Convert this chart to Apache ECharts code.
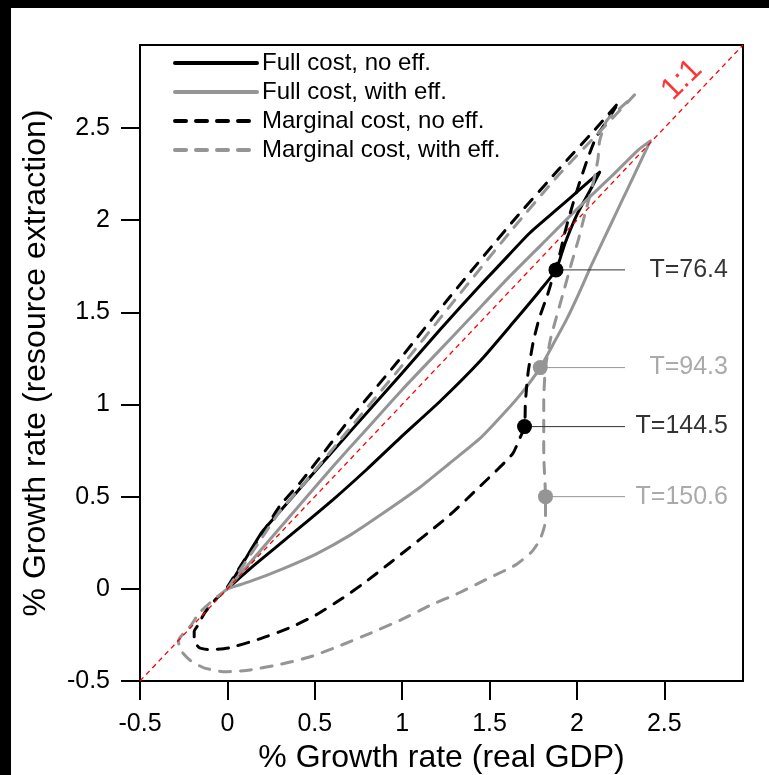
<!DOCTYPE html>
<html><head><meta charset="utf-8">
<script src="https://cdn.jsdelivr.net/npm/echarts@6/dist/echarts.min.js"></script>
<style>html,body{margin:0;padding:0;background:#fff}#c{width:769px;height:775px}</style>
</head><body><div id="c"></div>
<script>
// ---- data ----
const seriesNames = ['Full cost, no eff.', 'Full cost, with eff.', 'Marginal cost, no eff.', 'Marginal cost, with eff.'];

const fullNoEffX = [0.00,0.07,0.14,0.20,0.30,0.42,0.70,0.99,1.22,1.45,1.56,1.73,1.90,2.02,2.13,2.08,2.00,1.93,1.88,1.79,1.64,1.45,1.22,0.99,0.80,0.60,0.36,0.13,0.00];
const fullNoEffY = [0.00,0.11,0.22,0.31,0.42,0.55,0.85,1.16,1.41,1.65,1.76,1.93,2.07,2.17,2.26,2.17,2.03,1.87,1.73,1.62,1.45,1.24,1.02,0.82,0.65,0.48,0.29,0.11,0.00];

const fullEffX = [0,0.10,0.20,0.40,0.60,0.80,1.00,1.20,1.40,1.60,1.80,2.00,2.20,2.35,2.42,2.355,2.29,2.22,2.15,2.08,2.01,1.94,1.86,1.79,1.69,1.59,1.45,1.27,1.10,0.89,0.70,0.51,0.32,0.13,0];
const fullEffY = [0,0.11,0.22,0.44,0.66,0.87,1.08,1.28,1.48,1.68,1.87,2.06,2.24,2.38,2.43,2.30,2.17,2.03,1.89,1.75,1.60,1.46,1.32,1.20,1.07,0.96,0.82,0.68,0.55,0.41,0.29,0.19,0.11,0.04,0];

const margNoEffX = [0.00,0.10,0.20,0.30,0.42,0.70,0.99,1.27,1.63,1.90,2.13,2.24,2.18,2.11,2.06,2.01,1.965,1.93,1.90,1.865,1.83,1.785,1.75,1.72,1.705,1.70,1.67,1.63,1.45,1.26,0.93,0.78,0.66,0.51,0.36,0.19,0.01,-0.10,-0.16,-0.19,-0.19,-0.17,-0.13,-0.07,0.00];
const margNoEffY = [0.01,0.16,0.30,0.45,0.58,0.92,1.25,1.58,1.99,2.28,2.52,2.64,2.55,2.45,2.33,2.19,2.05,1.93,1.81,1.70,1.59,1.47,1.34,1.17,1.01,0.88,0.81,0.73,0.56,0.39,0.14,0.03,-0.05,-0.14,-0.21,-0.27,-0.32,-0.33,-0.32,-0.28,-0.23,-0.20,-0.13,-0.06,0.00];

const margEffX = [0,0.10,0.20,0.30,0.42,0.70,0.99,1.27,1.63,1.90,2.13,2.33,2.25,2.17,2.13,2.12,2.09,2.05,2.01,1.97,1.92,1.85,1.82,1.81,1.81,1.82,1.82,1.79,1.74,1.65,1.50,1.33,1.16,0.99,0.82,0.64,0.47,0.30,0.13,-0.01,-0.13,-0.21,-0.27,-0.28,-0.25,-0.21,-0.16,-0.08,0];
const margEffY = [0,0.14,0.28,0.42,0.55,0.87,1.20,1.53,1.95,2.25,2.48,2.68,2.61,2.54,2.43,2.33,2.19,2.05,1.90,1.77,1.60,1.36,1.20,1.02,0.73,0.50,0.37,0.27,0.20,0.13,0.06,-0.02,-0.09,-0.17,-0.24,-0.31,-0.37,-0.41,-0.44,-0.45,-0.43,-0.39,-0.33,-0.28,-0.24,-0.20,-0.13,-0.06,0];

const tLabels = ['T=76.4', 'T=94.3', 'T=144.5', 'T=150.6'];
const tX = [1.88, 1.79, 1.70, 1.82];
const tY = [1.73, 1.20, 0.88, 0.50];
const tOwner = [0, 1, 2, 3];   // index into seriesNames

const tickValues = [-0.5, 0, 0.5, 1, 1.5, 2, 2.5];
const axisMin = -0.5, axisMax = 2.95;
const oneToOneLabel = '1:1';
const xTitle = '% Growth rate (real GDP)';
const yTitle = '% Growth rate (resource extraction)';

// ---- styling ----
const FONT = 'Liberation Sans, Arial, sans-serif';
const BLACK = '#000000', GREY = '#959595';
const colors = [BLACK, GREY, BLACK, GREY];
const dashed = [false, false, true, true];
const curvesX = [fullNoEffX, fullEffX, margNoEffX, margEffX];
const curvesY = [fullNoEffY, fullEffY, margNoEffY, margEffY];
const leaderEndX = 2.275, labelRightX = 2.864;

const zip = (xs, ys) => xs.map((x, i) => [x, ys[i]]);

const series = [];
seriesNames.forEach((name, i) => {
  series.push({
    name, type: 'line', data: zip(curvesX[i], curvesY[i]),
    symbol: 'none', smooth: 0.2, z: 3,
    lineStyle: { color: colors[i], width: 3, type: dashed[i] ? [11, 10] : 'solid', cap: 'round', join: 'round' },
    itemStyle: { color: colors[i] }
  });
});
// 1:1 line
series.push({
  name: '1:1', type: 'line', data: [[axisMin, axisMin], [axisMax, axisMax]], symbol: 'none', z: 4,
  lineStyle: { color: '#ff0000', width: 1.3, type: [5, 4] }
});
// 1:1 text
series.push({
  name: '1:1 label', type: 'scatter', data: [[2.60, 2.76]], symbolSize: 0, z: 5,
  label: { show: true, position: 'inside', formatter: oneToOneLabel, rotate: 45, color: '#ff0000', fontSize: 31, fontFamily: FONT }
});
// leader lines, dots, labels
tLabels.forEach((lab, i) => {
  const c = colors[tOwner[i]];
  series.push({
    name: 'leader' + i, type: 'line', data: [[tX[i], tY[i]], [leaderEndX, tY[i]]], symbol: 'none', z: 5,
    lineStyle: { color: c === BLACK ? '#333333' : GREY, width: 1 }
  });
});
series.push({
  name: 'dots', type: 'scatter', z: 6, symbolSize: 15,
  data: tX.map((x, i) => ({ value: [x, tY[i]], itemStyle: { color: colors[tOwner[i]], opacity: 1 } }))
});
series.push({
  name: 'tlabels', type: 'scatter', z: 6, symbolSize: 0,
  data: tY.map((y, i) => ({
    value: [labelRightX, y],
    label: { show: true, position: 'left', distance: 0, formatter: tLabels[i], color: colors[tOwner[i]], fontSize: 25, fontFamily: FONT }
  }))
});

const axisCommon = {
  type: 'value', min: axisMin, max: axisMax, interval: 0.5,
  axisLine: { show: true, onZero: false, lineStyle: { color: BLACK, width: 2 } },
  axisTick: { show: true, length: 19, customValues: tickValues, lineStyle: { color: BLACK, width: 2 } },
  splitLine: { show: false },
  nameLocation: 'middle',
  nameTextStyle: { fontSize: 32, color: BLACK, fontFamily: FONT }
};

const option = {
  animation: false,
  backgroundColor: '#ffffff',
  grid: { left: 140, top: 45, width: 603, height: 636, show: true, borderColor: BLACK, borderWidth: 2, outerBoundsMode: 'none', containLabel: false },
  xAxis: Object.assign({}, axisCommon, {
    name: xTitle, nameGap: 54,
    axisLabel: { customValues: tickValues, margin: 31, fontSize: 25, color: BLACK, fontFamily: FONT, formatter: v => String(v) }
  }),
  yAxis: Object.assign({}, axisCommon, {
    name: yTitle, nameGap: 88,
    axisLabel: { customValues: tickValues, margin: 30, fontSize: 25, color: BLACK, fontFamily: FONT, formatter: v => String(v) }
  }),
  legend: {
    data: seriesNames, orient: 'vertical', left: 173, top: 51, padding: 0,
    itemWidth: 82, itemHeight: 14, itemGap: 5, selectedMode: false,
    itemStyle: { opacity: 0 },
    lineStyle: { width: 4 },
    textStyle: { fontSize: 24, color: BLACK, fontFamily: FONT, lineHeight: 24 }
  },
  graphic: [
    { type: 'rect', left: 0, top: 0, shape: { width: 769, height: 8 }, style: { fill: '#000' }, z: 100 },
    { type: 'rect', left: 0, top: 0, shape: { width: 11, height: 775 }, style: { fill: '#000' }, z: 100 }
  ],
  series
};
const chart = echarts.init(document.getElementById('c'), null, { renderer: 'canvas' });
chart.setOption(option);
</script></body></html>
